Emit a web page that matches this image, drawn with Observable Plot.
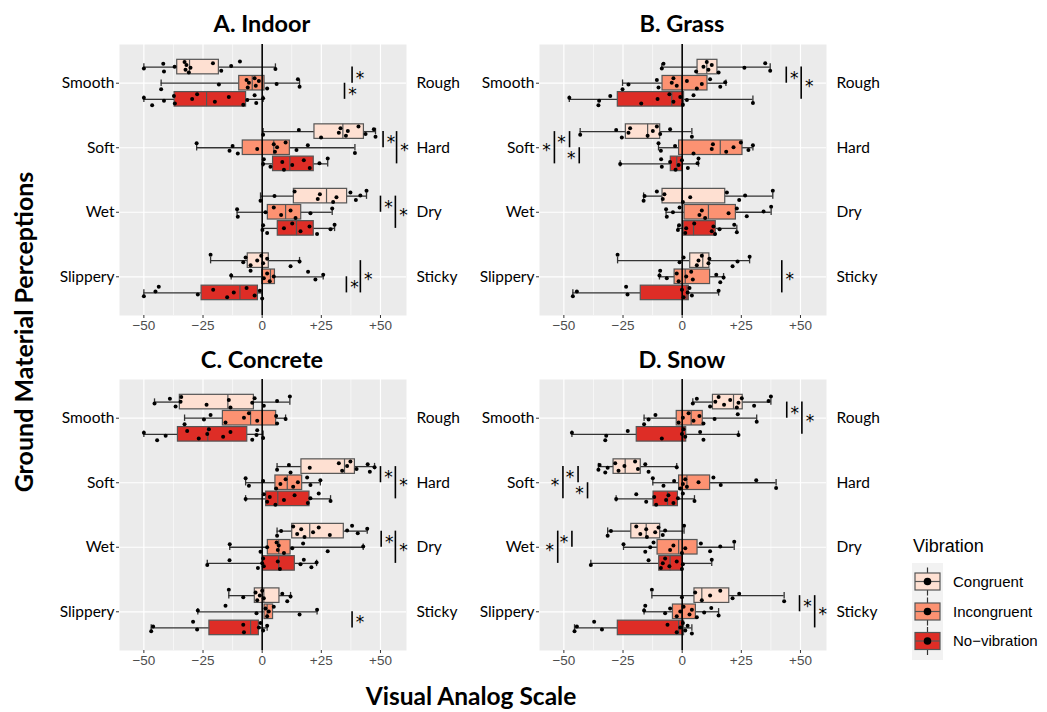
<!DOCTYPE html>
<html><head><meta charset="utf-8">
<script src="https://cdn.jsdelivr.net/npm/d3@7"></script>
<script src="https://cdn.jsdelivr.net/npm/@observablehq/plot@0.6"></script>
<style>
body{margin:0;background:#fff;}
#root{position:relative;width:1047px;height:712px;overflow:hidden;background:#fff;}
#root > svg, #root > div{position:absolute;}
</style></head><body><div id="root"></div>
<script>
const panelTitles = ["A. Indoor", "B. Grass", "C. Concrete", "D. Snow"];
const leftLabels = ["Smooth", "Soft", "Wet", "Slippery"];
const rightLabels = ["Rough", "Hard", "Dry", "Sticky"];
const conditions = ["Congruent", "Incongruent", "No\u2212vibration"];
const conditionColors = ["#FEE0D2", "#FC9272", "#DE2D26"];
const xTicks = [-50, -25, 0, 25, 50];
const xMinorTicks = [-37.5, -12.5, 12.5, 37.5];

// box statistics per perception x condition: [low whisker, Q1, median, Q3, high whisker]
const indoorStats = [
  [-50, -35.9, -30.7, -18.3, 5.6], [-42.7, -9.7, -4.2, 1, 15.8], [-50, -37, -23.5, -6.8, 0.4],
  [0.4, 22.1, 34.1, 43, 47.9], [-27.7, -8.2, 4.9, 11.7, 39.2], [0.4, 4.6, 11.7, 21.8, 27.7],
  [-0.7, 13.4, 27.2, 35.9, 44.1], [-10.6, 2.4, 9.9, 16.5, 29.6], [0.1, 6.6, 14.5, 21.8, 30.6],
  [-21.8, -6.1, 0, 2.8, 15.8], [-13.1, 0, 3.5, 5.4, 25.8], [-50, -25.6, -9.4, -1.8, 0]
];
const indoorPoints = [
  [-50,-41.8,-41.5,-37,-32.8,-32.4,-32,-31,-30.3,-20.8,-17.3,-13.1,-9.4,5.6],
  [-42.7,-18.3,-6.6,-6.1,-5.6,-3.2,-2.7,-1.4,2.1,6.1,15.1,15.8],
  [-50,-46.5,-41.5,-37.3,-36.9,-29.6,-27.5,-20,-14.1,-8,-6.3,-3.2,-2.5,0.4],
  [0.4,15.5,24.9,32.4,33.1,35.4,36.2,40.7,43.7,47.2,47.9],
  [-27.7,-13.8,-12.5,-10.3,-2.1,4.9,5.4,6.3,9.9,14.5,19.3,39.2],
  [0.4,0.7,3.5,8.5,9.2,12.7,17.6,20.1,24.2,27.7],
  [-0.7,5.2,13.7,23.5,24.4,30,31.4,37.3,39.6,41.5,44.1],
  [-10.6,-10.3,1.4,4.9,8,12,14.1,20.4,29.6],
  [0.1,0.4,2.1,9.2,12.7,16.2,20,23.2,28.9,30.6],
  [-21.8,-8,-7,-4.9,-2.1,-0.4,0.4,2.1,12,15.8],
  [-13.1,-4.9,0.7,2.1,3.2,4.9,19.4,22.5,25.8],
  [-50,-45.1,-43.7,-27.2,-20.7,-14.8,-12,-6.6,-3.2,-1,0]
];
// significance brackets: [perception, condition A, condition B, x]
const indoorSig = [[0,0,1,38],[0,1,2,34.8],[1,0,1,51.1],[1,0,2,56.8],[2,0,1,50],[2,0,2,56.3],[3,1,2,35.6],[3,0,2,41.5]];

const grassStats = [
  [-8.6, 6.5, 10.4, 14.9, 37.2], [-25.2, -8.3, -0.1, 10.7, 18.5], [-47.7, -27.2, -4.4, 0.8, 29.9],
  [-43.1, -23.8, -14.6, -9.3, 4.1], [-10, -1.3, 16.1, 25.5, 29.9], [-26.2, -4.8, -2.3, 0.3, 6.9],
  [-16.3, -8.3, -0.1, 18.2, 38.3], [-6.8, 1, 11.1, 22.7, 37.6], [-1.8, 0.6, 4.8, 14.2, 23.1],
  [-27.3, 3.4, 8.7, 11.5, 28.5], [-9.6, -3.2, 1.3, 11.8, 17.5], [-46.2, -17.5, 2, 2.8, 15.4]
];
const grassPoints = [
  [-8.6,-7.9,5.9,9,10.4,11.1,12.5,15.4,26.3,35.1,37.2],
  [-25.2,-22.7,-10.7,-10,-4.4,-3.7,-2.3,2,6.2,8.3,11.8,16.1,18.2],
  [-47.7,-35.4,-35.1,-30.4,-17.3,-10.4,-5.4,-3.7,-0.8,0.3,2,4.8,29.9],
  [-43.1,-27.9,-25.5,-22.7,-22,-14.6,-12.4,-10.7,-9.3,-5.1,4.1],
  [-10,-9,-3,4.8,12.5,13,18.6,21.7,24.8,28,29.9],
  [-26.2,-8.9,-8.6,-5.1,-2.8,-1.5,-0.1,2.4,6.5,6.9],
  [-16.3,-15.9,-10.7,-8.2,-7.5,0.3,3.4,18.9,24.1,26.6,38.3],
  [-6.8,-6.5,-3.9,-1.1,7.3,8.3,9.7,19.6,23.1,27.3,34.4,37.6],
  [-1.8,-1.3,1.3,1.7,5.1,12.5,13.2,13.9,15.8,22,23.1],
  [-27.3,-1.1,0.6,6.2,6.9,8.3,11.1,11.5,21.3,23.4,28.5],
  [-9.6,-9.3,-6.5,-2.3,-1.5,1.7,3.8,4.5,14.4,16.1,17.5],
  [-46.2,-44.5,-23.7,-23.1,-0.1,0.6,2.3,3.1,4.1,15.4]
];
const grassSig = [[0,0,1,44],[0,0,2,50.3],[1,0,2,-54],[1,0,1,-47.6],[1,1,2,-43.5],[3,0,2,42.1]];

const concreteStats = [
  [-45.5, -34.8, -14.5, -3.5, 11.7], [-32.8, -16.6, -4.9, 5.9, 9.9], [-50, -35.6, -23, -6.3, 0.4],
  [6.3, 16.6, 34.8, 39.2, 47.5], [-7, 5.6, 10.6, 16.9, 24.6], [-7, 1.7, 6.6, 20, 28.9],
  [6.3, 12.7, 20.1, 34.5, 44.4], [-13.7, 2.4, 7, 12, 42.7], [-23.2, 0.4, 7, 13.8, 23],
  [-14.1, -3.1, 0.7, 7.3, 12], [-27.2, 1, 2.1, 4.6, 23.2], [-46.9, -22.3, -4.9, -1.4, 2.1]
];
const concretePoints = [
  [-45.5,-39,-36.6,-34.5,-34.2,-23.5,-14.1,-13.4,-4.2,-3.2,0.7,6.3,11.7],
  [-32.8,-24.6,-21.8,-15.5,-7.7,-5.6,-2.1,5.9,6.3,9.9],
  [-50,-44.4,-40.8,-31.7,-26.8,-23.2,-22.5,-16.5,-13.4,-4.2,-2.4,-2.1,0.4],
  [6.3,11.3,12,20.1,32.4,33.8,35.9,37.3,39.9,44.6,45.5,47.5],
  [-7,-5.6,0.4,5.9,7.7,9.9,13.1,15.1,19,20.4,24.6],
  [-7,0.7,2.1,3.2,5.6,9.2,13.7,19.3,20.4,23.9,28.9],
  [6.3,8,13.1,14.8,16.5,17.9,21.5,23.9,28.6,35.9,38,40.4,44.4],
  [-13.7,-0.7,2.1,6.1,6.6,7,9.2,12.7,17.3,27.7,42.7],
  [-23.2,-13.8,-1.8,0,0.4,0.7,6.6,7.5,16.2,17.6,20.8,23],
  [-14.1,-8,-2.8,-2.1,-1,0,0.7,8.5,10.6,12],
  [-27.2,-15.5,-2.4,1.4,2.1,2.8,4.9,15.8,23.2],
  [-46.9,-46.1,-29.2,-27.5,-8,-7.7,-1.4,-0.7,0.4,2.1]
];
const concreteSig = [[1,0,1,50],[1,0,2,56.3],[2,0,1,50.3],[2,0,2,56.3],[3,1,2,38]];

const snowStats = [
  [4.5, 13, 21.7, 25.6, 37.5], [-16.1, -2.3, 3.8, 8.7, 31.5], [-46.6, -19.2, 0.3, 1.7, 23.8],
  [-35.4, -29, -24.1, -17.5, -2.3], [-12.4, -1.3, 2, 11.8, 39.7], [-27.9, -12.1, -6.2, -1.8, 5.2],
  [-31.5, -21.5, -15.2, -9.3, 0.8], [-24.8, -10.4, -1.5, 6.5, 22], [-38.6, -9.7, -5.1, 0.3, 12.5],
  [-12.8, 5.2, 8.3, 19.9, 43.1], [-16.1, -3.9, -0.1, 5.8, 15.4], [-45.5, -27.2, -1.5, 0.8, 4.1]
];
const snowPoints = [
  [4.5,6.2,11.8,14,15.4,17.7,20.3,23.1,23.8,25.2,30.4,36.5,37.5],
  [-16.1,-14.2,-11.3,-1.5,0.3,2.7,4.8,7.3,9,13.7,23.5,31.5],
  [-46.6,-32.5,-32.1,-23,-8.6,-0.1,0.6,1.3,7.6,9,23.8],
  [-35.4,-34.9,-32.5,-31.5,-28.3,-26.9,-24.4,-19.9,-18.7,-15.6,-14.2,-2.3],
  [-12.4,-7.9,-3.4,-0.8,0.3,1.3,2,6.9,13.2,16.3,31.3,39.7],
  [-27.9,-19.4,-15.2,-11.8,-11,-6.8,-5.8,-3.7,-1.8,0.3,5.2],
  [-31.5,-30.1,-19.4,-17.7,-15.2,-14.9,-11.4,-10,-8.2,-7.2,0.8],
  [-24.8,-15.6,-13.5,-12.1,-5.1,-3.7,-0.1,1.3,7.9,11.8,16.1,22],
  [-38.6,-14.2,-9,-8.2,-7.2,-5.4,-2.3,-0.1,0.3,12.5],
  [-12.8,-0.1,5.5,8.3,11.8,16.1,21.3,24.1,43.1],
  [-16.1,-15.6,-7.2,-5.1,-2.3,-0.8,0.6,3.1,4.1,6.2,9.3,12.3,15.4],
  [-45.5,-44.5,-37.2,-33.9,-6.2,-2.3,-0.8,0.3,1.3,2.3,4.1]
];
const snowSig = [[0,0,1,44.2],[0,0,2,50.6],[1,0,2,-50.4],[1,0,1,-44],[1,1,2,-40],[2,0,2,-52.6],[2,0,1,-46.6],[3,0,1,49.6],[3,0,2,56]];

const panelsData = [
  {stats: indoorStats, points: indoorPoints, sig: indoorSig},
  {stats: grassStats, points: grassPoints, sig: grassSig},
  {stats: concreteStats, points: concretePoints, sig: concreteSig},
  {stats: snowStats, points: snowPoints, sig: snowSig}
];

const root = document.getElementById("root");
const pos = (p, c) => p + (c - 1) * 0.25;
const fmt = d => d > 0 ? "+" + d : d < 0 ? "\u2212" + Math.abs(d) : "0";
const ML = 110, MR = 70, FW = 287, MT = 44, FH = 271, MB = 30;
const lefts = [119 - ML, 539 - ML, 119 - ML, 539 - ML];
const tops = [0, 0, 335, 335];

function makePanel(d) {
  const boxes = d.stats.map((s, k) => {
    const p = Math.floor(k / 3), c = k % 3;
    return {p, c, cond: conditions[c], y: pos(p, c), lo: s[0], q1: s[1], med: s[2], q3: s[3], hi: s[4]};
  });
  const pts = [];
  d.points.forEach((arr, k) => {
    const p = Math.floor(k / 3), c = k % 3;
    arr.forEach((v, j) => {
      const jit = ((((j + 1) * 0.6180339887 + k * 0.377) % 1) - 0.5) * 0.19;
      pts.push({v, y: pos(p, c) + jit});
    });
  });
  const sig = d.sig.map(([p, a, b, x]) => ({x, y1: pos(p, a), y2: pos(p, b), ym: (pos(p, a) + pos(p, b)) / 2}));
  const half = 0.1125, cap = 0.05;
  return Plot.plot({
    width: ML + FW + MR, height: MT + FH + MB,
    marginLeft: ML, marginRight: MR, marginTop: MT, marginBottom: MB,
    style: {background: "transparent", overflow: "visible", fontFamily: "Lato, sans-serif"},
    x: {domain: [-60.3, 61]},
    y: {domain: [-0.6, 3.6], reverse: true},
    color: {domain: conditions, range: conditionColors},
    marks: [
      Plot.frame({fill: "#EBEBEB", stroke: null}),
      Plot.gridX({ticks: xMinorTicks, stroke: "white", strokeOpacity: 1, strokeWidth: 0.6}),
      Plot.gridX({ticks: xTicks, stroke: "white", strokeOpacity: 1, strokeWidth: 1.2}),
      Plot.gridY({ticks: [0, 1, 2, 3], stroke: "white", strokeOpacity: 1, strokeWidth: 1.2}),
      Plot.ruleY(boxes, {y: "y", x1: "lo", x2: "q1", stroke: "#333", strokeWidth: 1.3}),
      Plot.ruleY(boxes, {y: "y", x1: "q3", x2: "hi", stroke: "#333", strokeWidth: 1.3}),
      Plot.ruleX(boxes, {x: "lo", y1: b => b.y - cap, y2: b => b.y + cap, stroke: "#333", strokeWidth: 1.3}),
      Plot.ruleX(boxes, {x: "hi", y1: b => b.y - cap, y2: b => b.y + cap, stroke: "#333", strokeWidth: 1.3}),
      Plot.rect(boxes, {x1: "q1", x2: "q3", y1: b => b.y - half, y2: b => b.y + half, fill: "cond", stroke: "#555", strokeWidth: 1.2}),
      Plot.ruleX(boxes, {x: "med", y1: b => b.y - half, y2: b => b.y + half, stroke: "#555", strokeWidth: 1.2}),
      Plot.ruleX([0], {stroke: "black", strokeWidth: 1.6}),
      Plot.dot(pts, {x: "v", y: "y", r: 2, fill: "black", stroke: null}),
      Plot.ruleX(sig, {x: "x", y1: "y1", y2: "y2", stroke: "black", strokeWidth: 1.6}),
      Plot.text(sig, {x: "x", y: "ym", text: () => "*", fontSize: 17, dy: 3, fill: "black",
        textAnchor: "middle", fontFamily: "DejaVu Sans, sans-serif"}),
      Plot.axisX({ticks: xTicks, tickFormat: fmt, tickSize: 3, tickPadding: 2, fontSize: 13.5,
        fontFamily: "Liberation Sans, Arial, sans-serif", stroke: "#333", fill: "#4D4D4D", label: null}),
      Plot.axisY({anchor: "left", ticks: [0, 1, 2, 3], tickFormat: i => leftLabels[i], tickSize: 3, tickPadding: 2,
        fontSize: 15.5, stroke: "#333", fill: "black", label: null}),
      Plot.axisY({anchor: "right", ticks: [0, 1, 2, 3], tickFormat: i => rightLabels[i], tickSize: 0, tickPadding: 10,
        fontSize: 15.5, fill: "black", label: null})
    ]
  });
}

panelsData.forEach((d, i) => {
  const svg = makePanel(d);
  svg.style.left = lefts[i] + "px";
  svg.style.top = tops[i] + "px";
  svg.style.position = "absolute";
  root.appendChild(svg);
  // place each asterisk beside its bracket line (left side for negative positions)
  const texts = svg.querySelectorAll("g[aria-label='text'] text");
  texts.forEach((t, j) => {
    const x = d.sig[j][3];
    t.setAttribute("dx", x < 0 ? -8 : 8);
  });
});

// overlay: panel titles, axis titles, legend
const ov = d3.select(root).append("svg").attr("width", 1047).attr("height", 712)
  .style("left", "0px").style("top", "0px").style("pointer-events", "none");
const titleX = [262, 682, 262, 682], titleY = [32, 32, 368, 368];
panelTitles.forEach((t, i) => {
  ov.append("text").attr("x", titleX[i]).attr("y", titleY[i]).attr("text-anchor", "middle")
    .attr("font-family", "Lato, sans-serif").attr("font-weight", "bold").attr("font-size", 23.5).text(t);
});
ov.append("text").attr("transform", "translate(33,332) rotate(-90)").attr("text-anchor", "middle")
  .attr("font-family", "Lato, sans-serif").attr("font-weight", "bold").attr("font-size", 25)
  .text("Ground Material Perceptions");
ov.append("text").attr("x", 471).attr("y", 705).attr("text-anchor", "middle")
  .attr("font-family", "Lato, sans-serif").attr("font-weight", "bold").attr("font-size", 24.5)
  .text("Visual Analog Scale");

const lg = ov.append("g");
lg.append("text").attr("x", 913).attr("y", 552).attr("font-family", "Liberation Sans, Arial, sans-serif")
  .attr("font-size", 18).text("Vibration");
lg.append("rect").attr("x", 912).attr("y", 563).attr("width", 31).attr("height", 97).attr("fill", "#F2F2F2");
const keyY = [581.5, 611.5, 641];
conditions.forEach((c, i) => {
  const cy = keyY[i];
  lg.append("line").attr("x1", 927.5).attr("x2", 927.5).attr("y1", cy - 14).attr("y2", cy + 14)
    .attr("stroke", "#333").attr("stroke-width", 1.2);
  lg.append("rect").attr("x", 915).attr("y", cy - 8.5).attr("width", 25).attr("height", 17)
    .attr("fill", conditionColors[i]).attr("stroke", "#555").attr("stroke-width", 1.2);
  lg.append("line").attr("x1", 915).attr("x2", 940).attr("y1", cy).attr("y2", cy)
    .attr("stroke", "#555").attr("stroke-width", 1.2);
  lg.append("circle").attr("cx", 927.5).attr("cy", cy).attr("r", 3.8).attr("fill", "black");
  lg.append("text").attr("x", 953).attr("y", cy).attr("dy", "0.35em")
    .attr("font-family", "Liberation Sans, Arial, sans-serif").attr("font-size", 15).text(c);
});
</script></body></html>
